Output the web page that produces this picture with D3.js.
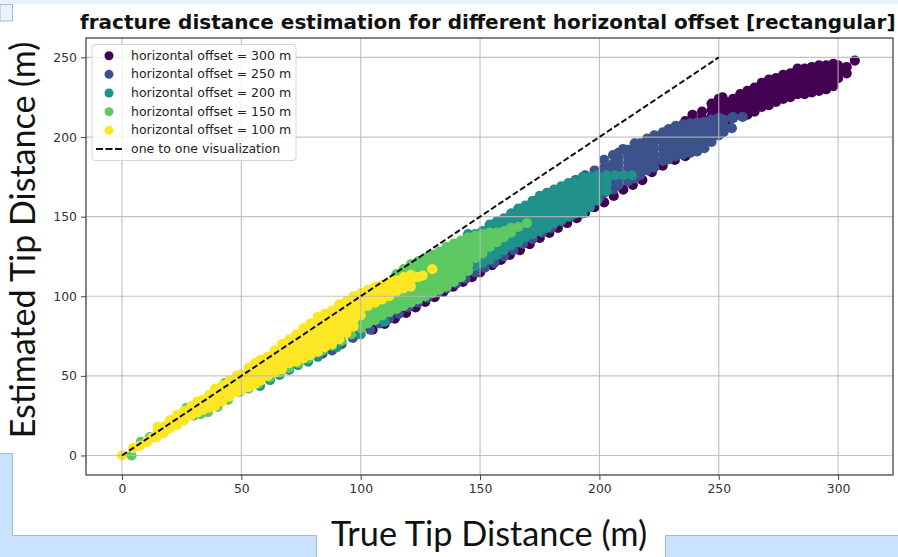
<!DOCTYPE html>
<html>
<head>
<meta charset="utf-8">
<script src="https://cdn.jsdelivr.net/npm/d3@7"></script>
<style>
  html, body { margin: 0; padding: 0; background: #fff; overflow: hidden; }
  text { font-family: "DejaVu Sans", sans-serif; }
</style>
</head>
<body>
<div id="chart"></div>
<script>
// every row: true tip distance, then the estimated distances read at that x
const offset300 = [[105,79],[110,82.6],[114.3,86],[119,89.5],[123,93],[127,96.4],[131,99.5],[134.6,102.7],[138.7,106],[142.8,109],[146.6,112],[150,115],[155,119.6],[158.7,122.8],[162.5,126],[166.7,129],[170.8,132.8],[175,136.6],[179,139.8],[182.6,142.9],[186.5,146],[190.5,149],[194,152.5],[198,156],[202,159],[206,163],[210,167],[214,170],[218,173],[222,178],[226.5,182],[231.6,185.6,206],[236,188,210],[239,214,210,206],[243,216,212,208,204],[247,221,217,213,209,205],[250,224,220,216,212,208],[251.6,225],[253,222,218,214,210],[256,224,220,216,212],[259,227,223,219,215],[262,229,225,221,217,214],[265,231,227,223,219,216],[268,234,230,226,222,219],[271,236,232,228,224,220],[274,237,233,229,225,222],[277,239,235,231,227,224],[280,240,236,232,228,225],[283,243,239,235,231,227],[286,243,239,235,231,227],[289,244,240,236,232,228],[292,245,241,237,233,229],[295,245,241,237,233,230],[298,246,242,238,234,232],[300,245,241,237],[303.6,244,240],[307,248]];
const offset250 = [[84,64],[88,66],[92,70],[96.7,73.8],[99,77],[104,79],[108,83],[112,86],[116,89],[120,93],[124,96],[128,99],[132,102],[136,105],[140,108],[144,111],[148,115],[152,118],[156,121],[160,125],[164,129],[168,133],[172,136],[176,140],[180,143],[184,147],[188,150],[190,173],[192,154],[194,176],[196,158],[198,179,175],[200,162],[202,165,169,173,177,181,185.6],[205.7,167,171,175,179,183,188.6],[208,170,174,178,182,186,190],[209.9,192.5],[212,172,176,180,184,188,192],[214.8,174,178,182,186,190,194,196],[217,176,180,184,188,192,196],[220,179,183,187,191,195,199],[223,181,185,189,193,197,201],[226.6,185,189,193,197,200,203],[229,186,190,194,198,202,205],[232,188,192,196,200,204,207],[235,189,193,197,201,205,208],[238,190,194,198,202,206,208.6],[241,191,195,199,203,207,209],[244,193,197,201,205,209.5],[247,197,201,205,209,211],[250,201,205,209,212],[252,203,207,211],[255.5,205.6,212],[256,212.6],[260,212.6]];
const offset200 = [[57.8,43.7],[62,47.4],[66,50.6],[70,53.7],[73.7,56.8],[78,59],[82,62],[90,68],[100,76],[110,84],[118,94],[126,102],[130,104],[134,107],[138,110],[142,113],[145,116,139],[148,119,123,127,131,135,139],[151,121,125,129,133,137,141],[154,123,127,131,135,139,143,145],[157,126,130,134,138,142,147],[160,129,133,137,141,145,149],[163,132,136,140,144,148,152],[166,134,138,142,146,150,155],[169,137,141,145,149,153,157],[172,139,143,147,151,155,160],[175,141,145,149,153,157,161,163],[178,143,147,151,155,159,163,165],[181,146,150,154,158,162,167],[184,148,152,156,160,164,169],[187,150,154,158,162,166,171],[190,152,156,160,164,168,172],[193,152,156,160,164,168,172,175],[196,156,160,164,168,172,175],[199,160,164,168,172,176],[203,166,170,173,176],[206.6,176],[210,176],[213.6,176]];
const offset150 = [[4,0],[7.9,8.5],[11.7,11.6],[19,19],[27,30],[30,25],[33,26],[36,27.3],[40,30.5],[43,45.5],[44.4,34.9],[49.4,40],[53,42],[57,45],[62,49],[66,52],[70,55],[74,58],[78,61],[84,66],[88,69],[92,72],[96,76],[100,80,84,88,92],[103,83,87,91,95],[106,85,89,93,97],[109,88,92,96,100],[112,90,94,98,102],[115,92,96,100,104,114],[118,94,98,102,106,110,113,117],[121,96,100,104,108,112,116,120],[124,98,102,106,110,114,118,122],[127,100,104,108,112,116,120,124],[130,102,106,110,114,118,122,126],[133,104,108,112,116,120,124,128],[136,106,110,114,118,122,126,131],[139,109,113,117,121,125,129,133],[142,112,116,120,124,128,132,135],[145,116,120,124,128,132,137],[148,124,128,132,136,138],[151,127,131,135,139],[154,131,135,140],[157,134,138,140],[160,137,141],[163,140,143],[166,143.5],[169.6,146]];
const offset100 = [[0,0],[4.6,4.6],[7.5,6],[10.4,8.5],[12.5,11],[14.6,11.6],[15,15,18],[17.5,14,18],[20,17,21,22.3],[23,19,23,25.4],[26,22,26,28],[29,25.4,29,31],[31.5,27,31,34],[34,28.6,32,35],[36.5,30,34,38],[39,31,35,39,42],[42,34,38,42,44],[45,37,41,45,47],[48,40,44,48,50],[50,41,45,49,51],[53,43,47,51,55],[55.7,45,49,53,58],[58,47,51,55,59,60],[61,50,54,58,62],[64,52,56,60,64,66],[67,54,58,62,66,70],[70,58,62,66,70,73],[73,59,63,67,71,76],[76,61,65,69,73,77,80],[79,63,67,71,75,79,83],[82,65,69,73,77,81,85,87],[85,68,72,76,80,84,88,89],[88,70,74,78,82,86,90,91],[91,73,77,81,85,89,93,95],[94,77,81,85,89,93,97],[97,81,85,89,93,97,100],[100,88,92,96,100,102],[103,94,98,102,104],[106,96,100,104,106],[109,98,102,106,107],[112,100,104,108,109],[115,103,107,110],[118,105,109,112],[121,106,110,113.4],[124,112],[126,113],[130,117]];

const seriesRows = [offset300, offset250, offset200, offset150, offset100];
const seriesNames = ["horizontal offset = 300 m", "horizontal offset = 250 m", "horizontal offset = 200 m", "horizontal offset = 150 m", "horizontal offset = 100 m"];
const seriesColors = ["#440154", "#3b528b", "#21918c", "#5ec962", "#fde725"];
const oneToOne = [0, 250];
const xTicks = [0, 50, 100, 150, 200, 250, 300];
const yTicks = [0, 50, 100, 150, 200, 250];

(function () {
    const width = 898;
    const height = 557;
    const plot = { left: 86, right: 893, top: 38, bottom: 475 };

    const svg = d3.select("#chart")
        .append("svg")
        .attr("width", width)
        .attr("height", height)
        .style("display", "block");

    // slide shapes behind the pasted figure
    const pale = "#eaf2fc", blue = "#c9e2fd", edge = "#9fb9d6";
    svg.append("rect").attr("width", width).attr("height", 4.5).attr("fill", pale);
    svg.append("path").attr("d", "M0,4.5H12.5V21H0Z").attr("fill", pale).attr("stroke", edge);
    svg.append("path").attr("d", "M-1,453.5H12.5V535.5H316.5V558H-1Z").attr("fill", blue).attr("stroke", edge);
    svg.append("path").attr("d", "M665.5,558V535.5H899V558Z").attr("fill", blue).attr("stroke", edge);

    const x = d3.scaleLinear().domain([-15.08, 323]).range([plot.left, plot.right]);
    const y = d3.scaleLinear().domain([-12.25, 262.2]).range([plot.bottom, plot.top]);

    const marks = svg.append("g");
    seriesRows.forEach((rows, i) => {
        const points = rows.flatMap(r => r.slice(1).map(v => [r[0], v]));
        marks.append("g").selectAll("circle").data(points)
            .enter().append("circle")
            .attr("cx", d => x(d[0]))
            .attr("cy", d => y(d[1]))
            .attr("r", 5.1)
            .attr("fill", seriesColors[i]);
    });

    // grid sits over the markers, axes come after it
    const xAxis = svg.append("g")
        .attr("transform", `translate(0,${plot.bottom})`)
        .call(d3.axisBottom(x).tickValues(xTicks).tickSizeOuter(0).tickSize(5).tickPadding(4));
    const yAxis = svg.append("g")
        .attr("transform", `translate(${plot.left},0)`)
        .call(d3.axisLeft(y).tickValues(yTicks).tickSizeOuter(0).tickSize(5).tickPadding(4));

    svg.append("g").selectAll("line").data(xTicks)
        .enter().append("line")
        .attr("x1", d => x(d)).attr("x2", d => x(d))
        .attr("y1", plot.top).attr("y2", plot.bottom)
        .attr("stroke", "#b8b8b8").attr("stroke-opacity", 0.85).attr("stroke-width", 1.2);
    svg.append("g").selectAll("line").data(yTicks)
        .enter().append("line")
        .attr("x1", plot.left).attr("x2", plot.right)
        .attr("y1", d => y(d)).attr("y2", d => y(d))
        .attr("stroke", "#b8b8b8").attr("stroke-opacity", 0.85).attr("stroke-width", 1.2);

    [xAxis, yAxis].forEach(a => {
        a.select(".domain").remove();
        a.selectAll("line").attr("stroke", "#444").attr("stroke-width", 1);
        a.selectAll("text").attr("font-size", 12.4).attr("fill", "#333").attr("font-family", "DejaVu Sans");
    });

    svg.append("rect")
        .attr("x", plot.left).attr("y", plot.top)
        .attr("width", plot.right - plot.left).attr("height", plot.bottom - plot.top)
        .attr("fill", "none").attr("stroke", "#444").attr("stroke-width", 1.3);

    const line = d3.line().x(d => x(d)).y(d => y(d));
    svg.append("path")
        .attr("d", line(oneToOne))
        .attr("fill", "none")
        .attr("stroke", "#111")
        .attr("stroke-width", 2)
        .attr("stroke-dasharray", "6,2.7");

    // legend
    const legend = svg.append("g");
    legend.append("rect")
        .attr("x", 92).attr("y", 44.5).attr("width", 204).attr("height", 116).attr("rx", 3)
        .attr("fill", "#fff").attr("fill-opacity", 0.8).attr("stroke", "#d4d4d4");
    const legendY = d3.scalePoint().domain(d3.range(6)).range([55.7, 149]);
    seriesNames.forEach((name, i) => {
        legend.append("circle")
            .attr("cx", 109).attr("cy", legendY(i)).attr("r", 4.5).attr("fill", seriesColors[i]);
        legend.append("text")
            .attr("x", 131).attr("y", legendY(i) + 4)
            .attr("font-size", 12.5).attr("fill", "#222").text(name);
    });
    legend.append("path")
        .attr("d", d3.line()([[96, legendY(5)], [122, legendY(5)]]))
        .attr("stroke", "#111").attr("stroke-width", 2).attr("stroke-dasharray", "7,2.5");
    legend.append("text")
        .attr("x", 131).attr("y", legendY(5) + 4)
        .attr("font-size", 12.5).attr("fill", "#222").text("one to one visualization");

    svg.append("text")
        .attr("x", 80).attr("y", 29)
        .attr("font-size", 20).attr("font-weight", "bold").attr("fill", "#111")
        .text("fracture distance estimation for different horizontal offset [rectangular]");

    svg.append("text")
        .attr("x", 489).attr("y", 546)
        .attr("text-anchor", "middle")
        .style("font-family", "Lato")
        .attr("font-size", 34.3).attr("fill", "#111")
        .text("True Tip Distance (m)");
    svg.append("text")
        .attr("transform", "translate(34.5,240) rotate(-90)")
        .attr("text-anchor", "middle")
        .style("font-family", "Lato")
        .attr("font-size", 34).attr("fill", "#111")
        .text("Estimated Tip Distance (m)");
})();
</script>
</body>
</html>
